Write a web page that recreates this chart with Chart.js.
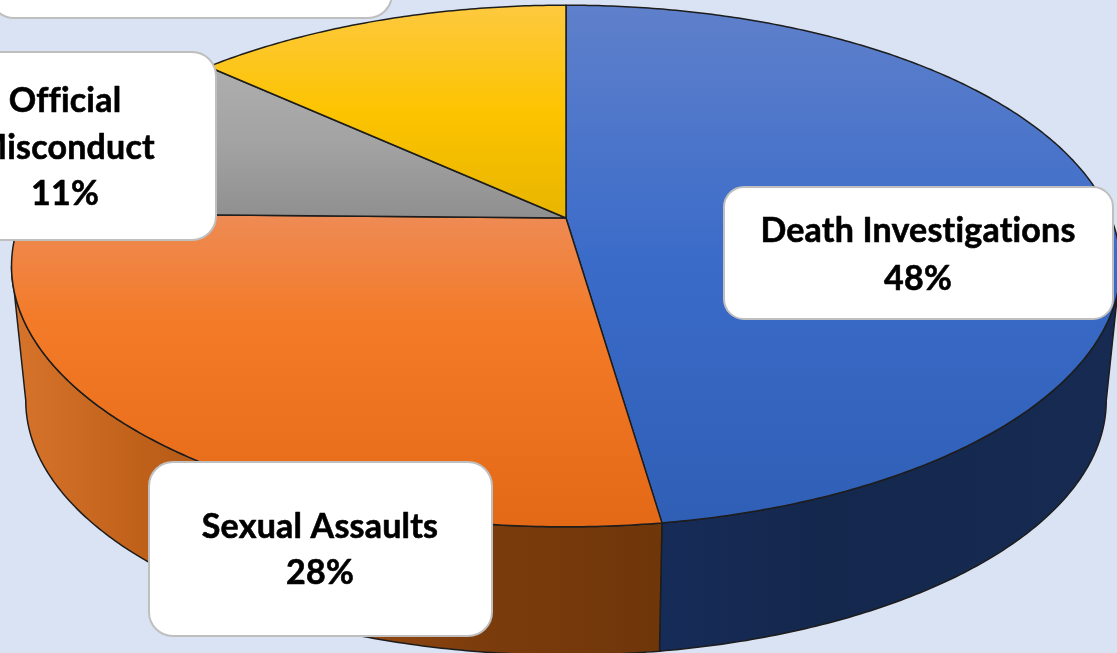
<!DOCTYPE html>
<html>
<head>
<meta charset="utf-8">
<style>
html,body{margin:0;padding:0;background:#dae3f3;overflow:hidden}
canvas{display:block}
</style>
<script src="https://cdn.jsdelivr.net/npm/chart.js@4"></script>
</head>
<body>
<canvas id="c" width="1117" height="653"></canvas>
<script>
// Data
const categories = ["Death Investigations", "Sexual Assaults", "Official Misconduct", "Other"];
const values = [47.7, 27.6, 11.49, 13.21];
const baseColors = ["#3a6bc9", "#f37a26", "#a5a5a5", "#fcc400"];

// Look of the faces: [top, middle, bottom] of each slice's vertical gradient, and where the middle falls
const faceStops = [
  ["#5f80cb", "#3a6bc9", "#2f5fb5", 0.5],
  ["#ee8b55", "#f37a26", "#e46917", 0.36],
  ["#aeaeae", "#a3a3a3", "#8f8f8f", 0.5],
  ["#fec93f", "#fcc400", "#e8b500", 0.5]
];
const wallStops = [
  [[0, "#162c58"], [0.35, "#14274d"], [1, "#172b52"]],
  [[0, "#d8742c"], [0.2, "#c0611a"], [0.72, "#7c3c0c"], [1, "#6f360a"]]
];

// Perspective view of the disc
const view = { cx: 566, k: 0.184, top: { rx: 545, ry: 252, y0: 218 }, bottom: { rx: 531, ry: 245.6, y0: 354 } };
function project(face, a, r) {
  const u = Math.cos(a) * r, v = Math.sin(a) * r, w = 1 - view.k * v;
  return [view.cx + face.rx * u / w, face.y0 + face.ry * v / w];
}
function tracePoints(ctx, face, a0, a1, move) {
  const n = Math.max(2, Math.ceil(Math.abs(a1 - a0) / 0.01));
  for (let i = 0; i <= n; i++) {
    const p = project(face, a0 + (a1 - a0) * i / n, 1);
    if (i === 0 && move) ctx.moveTo(p[0], p[1]); else ctx.lineTo(p[0], p[1]);
  }
}

const boxes = [
  { x: 724, y: 187, w: 389, h: 132, r: 20, tx: 918, lines: [231, 279], split: false },
  { x: 149, y: 462, w: 343, h: 174, r: 24, tx: 320, lines: [527, 573], split: false },
  { x: -86, y: 52, w: 302, h: 188, r: 24, tx: 65, lines: [101, 148, 194], split: true },
  { x: -10, y: -170, w: 402, h: 188, r: 24, tx: 190, lines: [], split: false }
];

const pie3d = {
  id: "pie3d",
  beforeDatasetsDraw(chart) {
    const ctx = chart.ctx;
    const arcs = chart.getDatasetMeta(0).data;
    const edge = "#1d1d1d";
    const leftA = Math.PI - Math.asin(view.k), rightA = Math.asin(view.k);

    ctx.save();
    ctx.lineJoin = "round";
    ctx.lineWidth = 1.5;
    ctx.strokeStyle = edge;

    // Side walls of the two front slices
    const frontA = arcs[0].endAngle;
    const parts = [[rightA, frontA, 0, 660, 1117], [frontA, leftA, 1, 10, 660]];
    parts.forEach(([a0, a1, idx, x0, x1]) => {
      const g = ctx.createLinearGradient(x0, 0, x1, 0);
      wallStops[idx].forEach(s => g.addColorStop(s[0], s[1]));
      ctx.beginPath();
      tracePoints(ctx, view.top, a0, a1, true);
      tracePoints(ctx, view.bottom, a1, a0, false);
      ctx.closePath();
      ctx.fillStyle = g;
      ctx.fill();
      ctx.stroke();
    });

    // Top faces
    arcs.forEach((arc, i) => {
      const g = ctx.createLinearGradient(0, boundsTop(arc), 0, boundsBottom(arc));
      g.addColorStop(0, faceStops[i][0]);
      g.addColorStop(faceStops[i][3], faceStops[i][1]);
      g.addColorStop(1, faceStops[i][2]);
      ctx.beginPath();
      const c = project(view.top, 0, 0);
      ctx.moveTo(c[0], c[1]);
      tracePoints(ctx, view.top, arc.startAngle, arc.endAngle, false);
      ctx.closePath();
      ctx.fillStyle = g;
      ctx.fill();
      ctx.stroke();
    });

    // Labels
    const total = values.reduce((a, b) => a + b, 0);
    boxes.forEach((b, i) => {
      ctx.beginPath();
      ctx.roundRect(b.x, b.y, b.w, b.h, b.r);
      ctx.fillStyle = "#ffffff";
      ctx.fill();
      ctx.lineWidth = 2;
      ctx.strokeStyle = "#bfbfbf";
      ctx.stroke();
      if (!b.lines.length) return;
      const pct = Math.round(values[i] / total * 100) + "%";
      const rows = (b.split ? categories[i].split(" ") : [categories[i]]).concat(pct);
      ctx.fillStyle = "#000000";
      ctx.strokeStyle = "#000000";
      ctx.lineWidth = 0.6;
      ctx.font = "bold 34px Lato, Carlito, sans-serif";
      ctx.letterSpacing = "0.2px";
      ctx.textAlign = "center";
      ctx.textBaseline = "middle";
      rows.forEach((t, j) => {
        ctx.fillText(t, b.tx, b.lines[j]);
        ctx.strokeText(t, b.tx, b.lines[j]);
      });
      ctx.letterSpacing = "0px";
    });
    ctx.restore();
    return false;
  }
};
function boundsTop(arc) {
  let m = 1e9;
  for (let i = 0; i <= 60; i++) m = Math.min(m, project(view.top, arc.startAngle + (arc.endAngle - arc.startAngle) * i / 60, 1)[1]);
  return Math.min(m, view.top.y0);
}
function boundsBottom(arc) {
  let m = -1e9;
  for (let i = 0; i <= 60; i++) m = Math.max(m, project(view.top, arc.startAngle + (arc.endAngle - arc.startAngle) * i / 60, 1)[1]);
  return Math.max(m, view.top.y0);
}

new Chart(document.getElementById("c"), {
  type: "pie",
  data: { labels: categories, datasets: [{ data: values, backgroundColor: baseColors }] },
  options: {
    responsive: false,
    animation: false,
    plugins: { legend: { display: false }, tooltip: { enabled: false } }
  },
  plugins: [pie3d]
});
</script>
</body>
</html>
